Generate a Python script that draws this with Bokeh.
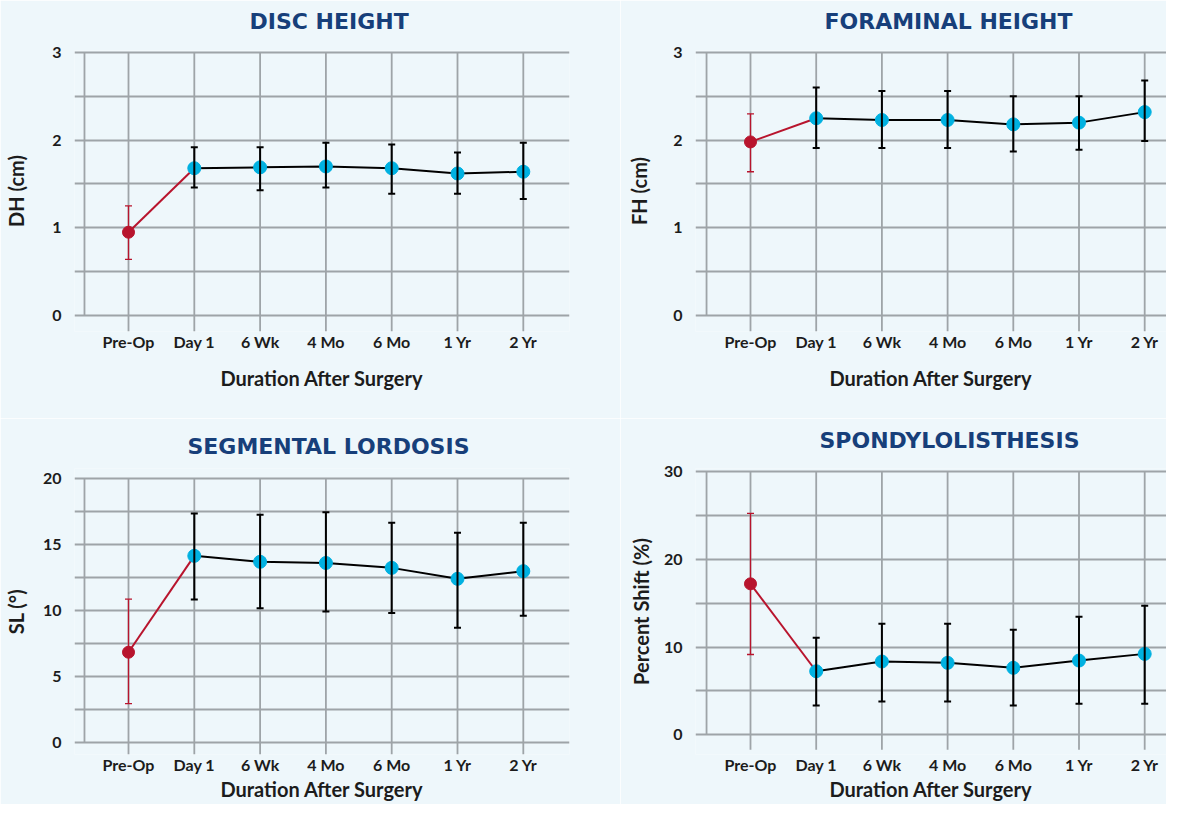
from bokeh.plotting import figure
from bokeh.models import (ColumnDataSource, FixedTicker, Whisker, TeeHead, Title,
                          Range1d)
from bokeh.layouts import column, row
from bokeh.embed import file_html
from bokeh.resources import INLINE

# ---------------- data ----------------
categories = ["Pre-Op", "Day 1", "6 Wk", "4 Mo", "6 Mo", "1 Yr", "2 Yr"]

dh_mean = [0.95, 1.68, 1.69, 1.70, 1.68, 1.62, 1.64]
dh_upper = [1.25, 1.92, 1.92, 1.97, 1.95, 1.86, 1.97]
dh_lower = [0.64, 1.46, 1.43, 1.46, 1.39, 1.39, 1.33]

fh_mean = [1.98, 2.25, 2.23, 2.23, 2.18, 2.20, 2.32]
fh_upper = [2.30, 2.60, 2.56, 2.56, 2.50, 2.50, 2.68]
fh_lower = [1.64, 1.91, 1.91, 1.91, 1.87, 1.89, 1.99]

sl_mean = [6.84, 14.14, 13.69, 13.60, 13.23, 12.40, 12.98]
sl_upper = [10.86, 17.35, 17.25, 17.45, 16.64, 15.89, 16.64]
sl_lower = [2.95, 10.83, 10.18, 9.92, 9.82, 8.69, 9.60]

sp_mean = [17.2, 7.24, 8.35, 8.20, 7.63, 8.46, 9.22]
sp_upper = [25.24, 11.05, 12.64, 12.64, 11.96, 13.44, 14.69]
sp_lower = [9.15, 3.34, 3.79, 3.79, 3.34, 3.53, 3.53]

# ---------------- style ----------------
FONT = "Lato"
TITLE_FONT = "DejaVu Sans"
TITLE_COLOR = "#173f7a"
TEXT_COLOR = "#1c1c1c"
GRID_COLOR = "#9ea4a8"
RED = "#b8142d"
CYAN = "#00b1e1"
BG = "#eef7fb"


def panel(title, title_offset, title_standoff, title_lh, ylabel, mean, upper, lower,
          *, width, height, left, top, frame_w, frame_h, xr, yr, yticks, ygrid,
          vline_bottom, ylab_standoff, xtick_standoff, xlab_standoff):
    p = figure(width=width, height=height, output_backend="svg",
               toolbar_location=None, x_range=Range1d(*xr), y_range=Range1d(*yr),
               min_border_left=left, min_border_top=top,
               min_border_right=width - left - frame_w,
               min_border_bottom=height - top - frame_h)
    p.background_fill_color = BG
    p.border_fill_color = BG
    p.outline_line_color = None

    t = Title(text=title, align="left", offset=title_offset,
              vertical_align="bottom", standoff=title_standoff,
              text_font=TITLE_FONT, text_font_style="bold", text_font_size="22px",
              text_line_height=title_lh, text_color=TITLE_COLOR)
    p.add_layout(t, "above")

    x = list(range(1, len(categories) + 1))
    n = len(x)

    # grid: horizontal lines span the frame, vertical lines drawn as segments
    p.xgrid.grid_line_color = None
    p.ygrid.ticker = FixedTicker(ticks=ygrid)
    p.ygrid.grid_line_color = GRID_COLOR
    p.ygrid.grid_line_width = 1.8
    p.segment(x0=x, y0=[vline_bottom] * n, x1=x, y1=[ygrid[-1]] * n,
              line_color=GRID_COLOR, line_width=1.8)
    p.segment(x0=[0.331], y0=[ygrid[0]], x1=[0.331], y1=[ygrid[-1]],
              line_color=GRID_COLOR, line_width=1.8)

    # axes
    xa = p.xaxis[0]
    xa.ticker = FixedTicker(ticks=x)
    xa.major_label_overrides = {i: c for i, c in zip(x, categories)}
    ya = p.yaxis[0]
    ya.ticker = FixedTicker(ticks=yticks)
    for a in (xa, ya):
        a.axis_line_color = None
        a.major_tick_line_color = None
        a.minor_tick_line_color = None
        a.major_tick_out = 0
        a.major_tick_in = 0
        a.major_label_text_font = FONT
        a.major_label_text_font_style = "bold"
        a.major_label_text_font_size = "16px"
        a.major_label_text_color = TEXT_COLOR
        a.axis_label_text_font = FONT
        a.axis_label_text_font_style = "bold"
        a.axis_label_text_font_size = "20px"
        a.axis_label_text_color = TEXT_COLOR
    xa.axis_label = "Duration After Surgery"
    xa.major_label_standoff = xtick_standoff
    xa.axis_label_standoff = xlab_standoff
    ya.axis_label = ylabel
    ya.major_label_standoff = 13
    ya.axis_label_standoff = ylab_standoff

    pre = ColumnDataSource(dict(x=x[:1], m=mean[:1], up=upper[:1], lo=lower[:1]))
    post = ColumnDataSource(dict(x=x[1:], m=mean[1:], up=upper[1:], lo=lower[1:]))

    # connecting lines
    p.line(x[:2], mean[:2], line_color=RED, line_width=2)
    p.line("x", "m", source=post, line_color="black", line_width=2)

    # error bars
    w1 = Whisker(source=pre, base="x", upper="up", lower="lo",
                 line_color=RED, line_width=1.3, level="glyph",
                 upper_head=TeeHead(size=7, line_color=RED, line_width=1.3),
                 lower_head=TeeHead(size=7, line_color=RED, line_width=1.3))
    w2 = Whisker(source=post, base="x", upper="up", lower="lo",
                 line_color="black", line_width=2, level="glyph",
                 upper_head=TeeHead(size=7, line_color="black", line_width=2),
                 lower_head=TeeHead(size=7, line_color="black", line_width=2))
    p.add_layout(w1)
    p.add_layout(w2)

    # markers
    p.scatter("x", "m", source=pre, size=12, fill_color=RED, line_color=RED)
    p.scatter("x", "m", source=post, size=13, fill_color=CYAN, line_color=CYAN)
    return p


L_W, R_W = 620, 546
T_H, B_H = 418, 386
L_XR = (0.1793, 7.702)
R_XR = (0.1629, 7.3318)

p1 = panel("DISC HEIGHT\n", 175, 0, 0.68, "DH (cm)", dh_mean, dh_upper, dh_lower,
           width=L_W, height=T_H, left=74, top=50, frame_w=495, frame_h=281,
           xr=L_XR, yr=(-0.1825, 3.0228), yticks=[0, 1, 2, 3],
           ygrid=[0, 0.5, 1, 1.5, 2, 2.5, 3], vline_bottom=-0.1825,
           ylab_standoff=21, xtick_standoff=0, xlab_standoff=12)
p2 = panel("FORAMINAL HEIGHT\n", 129, 0, 0.68, "FH (cm)", fh_mean, fh_upper, fh_lower,
           width=R_W, height=T_H, left=75, top=50, frame_w=471, frame_h=281,
           xr=R_XR, yr=(-0.1825, 3.0228), yticks=[0, 1, 2, 3],
           ygrid=[0, 0.5, 1, 1.5, 2, 2.5, 3], vline_bottom=-0.1825,
           ylab_standoff=19, xtick_standoff=0, xlab_standoff=12)
p3 = panel("SEGMENTAL LORDOSIS", 113, 20, 1.0, "SL (°)", sl_mean, sl_upper, sl_lower,
           width=L_W, height=B_H, left=74, top=50, frame_w=495, frame_h=286,
           xr=L_XR, yr=(-0.909, 20.758), yticks=[0, 5, 10, 15, 20],
           ygrid=[0, 2.5, 5, 7.5, 10, 12.5, 15, 17.5, 20], vline_bottom=-0.909,
           ylab_standoff=12, xtick_standoff=0, xlab_standoff=0)
p4 = panel("SPONDYLOLISTHESIS\n", 124, 0, 0.64, "Percent Shift (%)", sp_mean, sp_upper,
           sp_lower, width=R_W, height=B_H, left=75, top=50, frame_w=471, frame_h=286,
           xr=R_XR, yr=(-2.245, 30.342), yticks=[0, 10, 20, 30],
           ygrid=[0, 5, 10, 15, 20, 25, 30], vline_bottom=-1.709,
           ylab_standoff=8, xtick_standoff=0, xlab_standoff=0)

layout = column(row(p1, p2, spacing=0), row(p3, p4, spacing=0), spacing=0)
open("out.html", "w").write(file_html(layout, INLINE))
